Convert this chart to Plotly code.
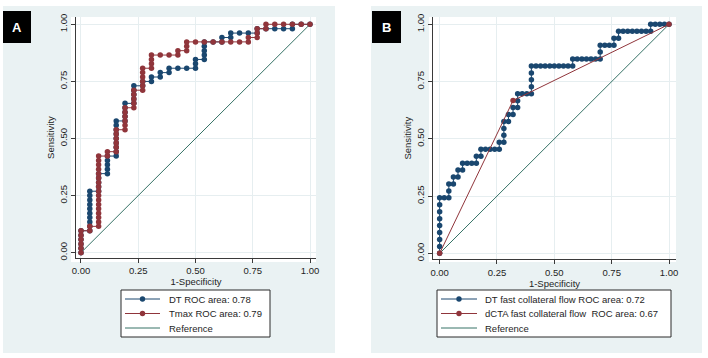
import plotly.graph_objects as go

W, H = 708, 358

# ---------------- Data ----------------
# Panel A: ROC vertices as counts (false positives out of 26, true positives out of 52)
A_N_NEG, A_N_POS = 26, 52
dt_a_fp = [0, 0, 0, 0, 0, 0,
           1, 1, 1, 1, 1, 1, 1, 1, 1, 1,
           2, 2, 2, 2, 2,
           3, 3, 3, 3, 3,
           4, 4, 4, 4, 4, 4, 4, 4, 4,
           5, 5, 5, 5, 5,
           6, 6, 6, 6, 6,
           7, 7, 8, 8, 9, 9, 10, 10, 11, 12, 13, 13, 13,
           14, 14, 14, 14, 14, 15, 16, 16, 17, 17, 18, 19, 20, 20, 21, 22, 23, 24, 24, 25, 26]
dt_a_tp = [0, 1, 2, 3, 4, 5,
           5, 6, 7, 8, 9, 10, 11, 12, 13, 14,
           14, 15, 16, 17, 18,
           18, 19, 20, 21, 22,
           22, 23, 24, 25, 26, 27, 28, 29, 30,
           30, 31, 32, 33, 34,
           34, 35, 36, 37, 38,
           38, 39, 39, 40, 40, 41, 41, 42, 42, 42, 42, 43, 44,
           44, 45, 46, 47, 48, 48, 48, 49, 49, 50, 50, 50, 50, 51, 51, 51, 51, 51, 52, 52, 52]

tmax_a_fp = [0, 0, 0, 0, 0, 0,
             1, 1,
             2, 2, 2, 2, 2, 2, 2, 2, 2, 2, 2, 2, 2, 2, 2, 2, 2,
             3, 3,
             4, 4, 4, 4, 4, 4,
             5, 5, 5, 5, 5, 5,
             6, 6, 6, 6, 6,
             7, 7, 7, 7, 7, 7,
             8, 8, 8, 8,
             9, 10, 11, 11, 12, 12, 12,
             13, 14, 15, 16, 17, 18,
             19, 19, 20, 20, 20, 21, 21, 22, 23, 24, 25, 26]
tmax_a_tp = [0, 1, 2, 3, 4, 5,
             5, 6,
             6, 7, 8, 9, 10, 11, 12, 13, 14, 15, 16, 17, 18, 19, 20, 21, 22,
             22, 23,
             23, 24, 25, 26, 27, 28,
             28, 29, 30, 31, 32, 33,
             33, 34, 35, 36, 37,
             37, 38, 39, 40, 41, 42,
             42, 43, 44, 45,
             45, 45, 45, 46, 46, 47, 48,
             48, 48, 48, 48, 48, 48,
             48, 49, 49, 50, 51, 51, 52, 52, 52, 52, 52, 52]

# Panel B: ROC vertices as counts (false positives out of 50, true positives out of 33)
B_N_NEG, B_N_POS = 50, 33
dt_b_fp = [0, 0, 0, 0, 0, 0, 0, 0, 0, 1, 2, 2, 2, 3, 3, 4, 4, 5, 5, 6, 7, 8, 8, 9, 9,
           10, 11, 12, 13, 13, 14, 14, 14, 14, 15, 15, 16, 16, 17, 17, 17, 18, 19,
           20, 20, 20, 20, 20, 21, 22, 23, 24, 25, 26, 27, 28, 29, 29,
           30, 31, 32, 33, 34, 35, 35, 35, 36, 37, 38, 38, 39, 39,
           40, 41, 42, 43, 44, 45, 46, 46, 47, 48, 49, 50]
dt_b_tp = [0, 1, 2, 3, 4, 5, 6, 7, 8, 8, 8, 9, 10, 10, 11, 11, 12, 12, 13, 13, 13, 13, 14, 14, 15,
           15, 15, 15, 15, 16, 16, 17, 18, 19, 19, 20, 20, 21, 21, 22, 23, 23, 23,
           23, 24, 25, 26, 27, 27, 27, 27, 27, 27, 27, 27, 27, 27, 28,
           28, 28, 28, 28, 28, 28, 29, 30, 30, 30, 30, 31, 31, 32,
           32, 32, 32, 32, 32, 32, 32, 33, 33, 33, 33, 33]

dcta_b_x = [0.0, 0.32, 1.0]
dcta_b_y = [0.0, 0.667, 1.0]

ref_x = [0, 1]
ref_y = [0, 1]

tick_vals = [0, 0.25, 0.5, 0.75, 1.0]
tick_text = ["0.00", "0.25", "0.50", "0.75", "1.00"]

legend_a = ["DT ROC area: 0.78", "Tmax ROC area: 0.79", "Reference"]
legend_b = ["DT fast collateral flow ROC area: 0.72",
            "dCTA fast collateral flow  ROC area: 0.67", "Reference"]

assert len(dt_a_fp) == len(dt_a_tp)
assert len(tmax_a_fp) == len(tmax_a_tp)
assert len(dt_b_fp) == len(dt_b_tp)

# ---------------- Styling ----------------
BLUE = "#1a476f"
RED = "#90353b"
GREEN = "#367266"
PANEL_BG = "#eaf2f3"
GRID = "#e6eef0"
FONT = "Liberation Sans, Arial, sans-serif"
FS = 9.5
MS = 5.5


def fx(px):
    return px / W


def fy(py):
    return 1 - py / H


fig = go.Figure()

# Panel A traces
fig.add_trace(go.Scatter(x=ref_x, y=ref_y, mode="lines", line=dict(color=GREEN, width=1),
                         xaxis="x", yaxis="y", showlegend=False))
fig.add_trace(go.Scatter(x=[v / A_N_NEG for v in dt_a_fp], y=[v / A_N_POS for v in dt_a_tp],
                         mode="lines+markers", line=dict(color=BLUE, width=1),
                         marker=dict(color=BLUE, size=MS), xaxis="x", yaxis="y", showlegend=False))
fig.add_trace(go.Scatter(x=[v / A_N_NEG for v in tmax_a_fp], y=[v / A_N_POS for v in tmax_a_tp],
                         mode="lines+markers", line=dict(color=RED, width=1),
                         marker=dict(color=RED, size=MS), xaxis="x", yaxis="y", showlegend=False))

# Panel B traces
fig.add_trace(go.Scatter(x=ref_x, y=ref_y, mode="lines", line=dict(color=GREEN, width=1),
                         xaxis="x2", yaxis="y2", showlegend=False))
fig.add_trace(go.Scatter(x=[v / B_N_NEG for v in dt_b_fp], y=[v / B_N_POS for v in dt_b_tp],
                         mode="lines+markers", line=dict(color=BLUE, width=1),
                         marker=dict(color=BLUE, size=MS), xaxis="x2", yaxis="y2", showlegend=False))
fig.add_trace(go.Scatter(x=dcta_b_x, y=dcta_b_y, mode="lines+markers",
                         line=dict(color=RED, width=1), marker=dict(color=RED, size=MS),
                         xaxis="x2", yaxis="y2", showlegend=False))

axis_common = dict(
    tickvals=tick_vals, ticktext=tick_text, showline=True, linecolor="#3a3a3a", linewidth=1,
    ticks="outside", ticklen=4, tickcolor="#3a3a3a", showgrid=True, gridcolor=GRID,
    gridwidth=1, zeroline=False, tickfont=dict(family=FONT, size=FS, color="#1e1e1e"),
    automargin=False,
)

fig.update_layout(
    width=W, height=H, margin=dict(l=0, r=0, t=0, b=0, autoexpand=False),
    paper_bgcolor="white", plot_bgcolor="white",
    font=dict(family=FONT, size=FS, color="#1e1e1e"),
    xaxis=dict(domain=[fx(76), fx(316)], range=[-0.0218, 1.0262], anchor="y",
               title=dict(text="1-Specificity", standoff=0, font=dict(family=FONT, size=FS)),
               **axis_common),
    yaxis=dict(domain=[fy(258), fy(17)], range=[-0.0232, 1.032], anchor="x", tickangle=-90,
               title=dict(text="Sensitivity", standoff=1, font=dict(family=FONT, size=FS)),
               **axis_common),
    xaxis2=dict(domain=[fx(433), fx(676)], range=[-0.029, 1.0305], anchor="y2",
                title=dict(text="1-Specificity", standoff=0, font=dict(family=FONT, size=FS)),
                **axis_common),
    yaxis2=dict(domain=[fy(259.3), fy(17)], range=[-0.026, 1.032], anchor="x2", tickangle=-90,
                title=dict(text="Sensitivity", standoff=1, font=dict(family=FONT, size=FS)),
                **axis_common),
)

shapes = []
annotations = []


def rect(x0, y0, x1, y1, fill, line_color=None, layer="below"):
    shapes.append(dict(type="rect", xref="paper", yref="paper",
                       x0=fx(x0), x1=fx(x1), y0=fy(y1), y1=fy(y0),
                       fillcolor=fill, layer=layer,
                       line=dict(width=1 if line_color else 0, color=line_color or fill)))


# Panel backgrounds and white plot regions
rect(3, 6, 335, 353, PANEL_BG)
rect(371, 6, 702, 353, PANEL_BG)
rect(71, 17, 316, 262, "white")
rect(429, 17, 676, 262, "white")

# Panel letters
for (x0, x1, letter) in [(3, 31, "A"), (372, 401, "B")]:
    rect(x0, 11, x1, 43, "black", layer="above")
    annotations.append(dict(x=fx((x0 + x1) / 2), y=fy(27), xref="paper", yref="paper",
                            text="<b>%s</b>" % letter, showarrow=False,
                            font=dict(family=FONT, size=13, color="white"),
                            xanchor="center", yanchor="middle"))


def legend_box(x0, x1, line_x0, line_x1, text_x, labels):
    rect(x0, 290, x1, 337, "white", line_color="#2a2a2a", layer="above")
    rows = [299, 313.5, 328]
    colors = [BLUE, RED, GREEN]
    for i, (lab, yy) in enumerate(zip(labels, rows)):
        shapes.append(dict(type="line", xref="paper", yref="paper",
                           x0=fx(line_x0), x1=fx(line_x1), y0=fy(yy), y1=fy(yy),
                           line=dict(color=colors[i], width=1), layer="above"))
        if i < 2:
            cx = (line_x0 + line_x1) / 2
            shapes.append(dict(type="circle", xref="paper", yref="paper",
                               x0=fx(cx - 2.7), x1=fx(cx + 2.7), y0=fy(yy + 2.7), y1=fy(yy - 2.7),
                               fillcolor=colors[i], line=dict(color=colors[i], width=0),
                               layer="above"))
        annotations.append(dict(x=fx(text_x), y=fy(yy), xref="paper", yref="paper",
                                text=lab, showarrow=False, xanchor="left", yanchor="middle",
                                font=dict(family=FONT, size=FS, color="#1e1e1e")))


legend_box(121, 270, 125, 160, 167, legend_a)
legend_box(437, 671, 441, 477, 483, legend_b)

fig.update_layout(shapes=shapes, annotations=annotations)

fig.write_html("out.html", config={"displayModeBar": False},
               post_script="document.body.style.margin='0';")
